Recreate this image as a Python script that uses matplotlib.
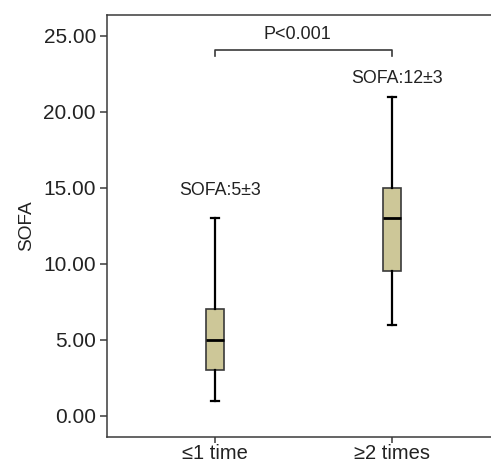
import matplotlib
matplotlib.use("Agg")
import matplotlib.pyplot as plt

plt.rcParams['font.family'] = ['Liberation Sans', 'DejaVu Sans']

categories = ["≤1 time", "≥2 times"]
whisker_low = [1, 6]
q1 = [3, 9.5]
median = [5, 13]
q3 = [7, 15]
whisker_high = [13, 21]
annotations = ["SOFA:5±3", "SOFA:12±3"]
annot_y = [14.85, 22.2]
p_text = "P<0.001"
yticks = [0, 5, 10, 15, 20, 25]

line_col = "#3a3a3a"
box_col = "#cdc798"

fig = plt.figure(figsize=(4.91, 4.65), dpi=100)
ax = fig.add_axes([0.218, 0.0602, 0.782, 0.9075])

positions = [1, 2]
stats = []
for i, c in enumerate(categories):
    stats.append(dict(label=c, whislo=whisker_low[i], q1=q1[i], med=median[i],
                      q3=q3[i], whishi=whisker_high[i], fliers=[]))

ax.bxp(stats, positions=positions, widths=0.105, patch_artist=True, showfliers=False,
       boxprops=dict(facecolor=box_col, edgecolor=line_col, linewidth=1.2),
       medianprops=dict(color="black", linewidth=2.0),
       whiskerprops=dict(color="black", linewidth=1.6),
       capprops=dict(color="black", linewidth=1.6),
       capwidths=0.045)

for i, t in enumerate(annotations):
    ax.text(positions[i] + 0.03, annot_y[i], t, ha="center", va="center",
            fontsize=12.8, color="#222222")

# significance bracket
by, bt = 24.1, 23.65
ax.plot([positions[0], positions[0], positions[1], positions[1]], [bt, by, by, bt],
        color=line_col, linewidth=1.2)
ax.text((positions[0] + positions[1]) / 2 - 0.035, by + 0.45, p_text, ha="center",
        va="bottom", fontsize=13, color="#222222")

ax.set_xlim(0.39, 2.56)
ax.set_ylim(-1.4, 26.38)
ax.set_yticks(yticks)
ax.set_yticklabels([f"{v:.2f}" for v in yticks])
ax.set_xticks(positions)
ax.set_xticklabels(categories)
ax.set_ylabel("SOFA", fontsize=13.7, color="#222222", labelpad=6)

for s in ["left", "top", "bottom"]:
    ax.spines[s].set_color(line_col)
    ax.spines[s].set_linewidth(1.1)
ax.spines["right"].set_visible(False)
ax.tick_params(axis="y", colors=line_col, labelcolor="#222222", labelsize=15,
               length=5, width=1.1, pad=3)
ax.tick_params(axis="x", colors=line_col, labelcolor="#222222", labelsize=14.5,
               length=4, width=1.1, pad=1)

fig.savefig("out.png", dpi=100)
